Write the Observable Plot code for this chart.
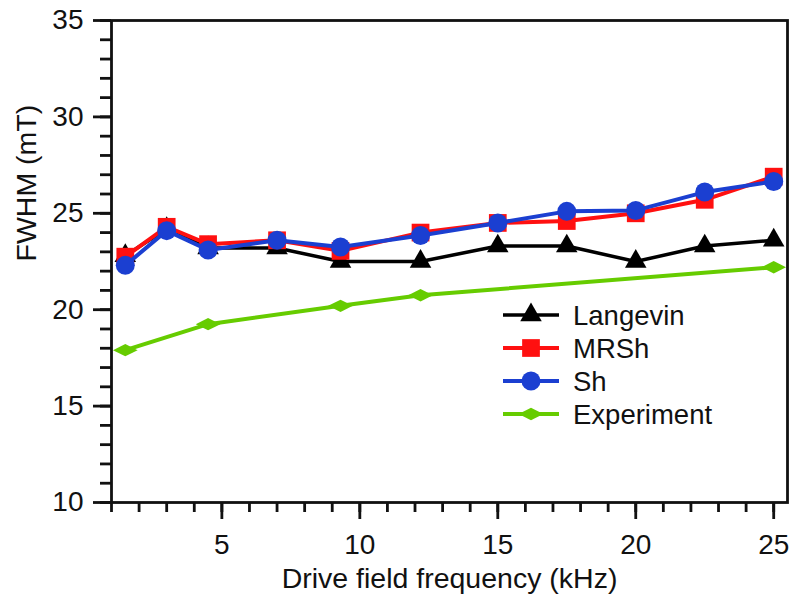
<!DOCTYPE html>
<html>
<head>
<meta charset="utf-8">
<script src="https://cdn.jsdelivr.net/npm/d3@7"></script>
<script src="https://cdn.jsdelivr.net/npm/@observablehq/plot@0.6"></script>
<style>
  html, body { margin: 0; padding: 0; background: #fff; }
  #chart { position: relative; width: 800px; height: 610px; }
</style>
</head>
<body>
<div id="chart"></div>
<script>
// ---- data ----
const freqSim = [1.5, 3, 4.5, 7, 9.3, 12.2, 15, 17.5, 20, 22.5, 25];
const langevin = [22.8, 24.2, 23.2, 23.2, 22.5, 22.5, 23.3, 23.3, 22.5, 23.3, 23.6];
const mrsh = [22.75, 24.3, 23.4, 23.6, 23.05, 24.0, 24.5, 24.6, 25.0, 25.7, 26.9];
const sh = [22.3, 24.1, 23.1, 23.6, 23.25, 23.85, 24.5, 25.1, 25.15, 26.1, 26.65];
const freqExp = [1.5, 4.5, 9.3, 12.2, 25];
const experiment = [17.9, 19.25, 20.2, 20.75, 22.2];
const seriesNames = ["Langevin", "MRSh", "Sh", "Experiment"];
const xMajorTicks = [5, 10, 15, 20, 25];
const yMajorTicks = [10, 15, 20, 25, 30, 35];
const xLabel = "Drive field frequency (kHz)";
const yLabel = "FWHM (mT)";

const colors = { Langevin: "#000000", MRSh: "#ff1010", Sh: "#1b3fd1", Experiment: "#66cc00" };

const toRows = (xs, ys, name) => xs.map((x, i) => ({ x, y: ys[i], series: name }));
const rowsL = toRows(freqSim, langevin, "Langevin");
const rowsM = toRows(freqSim, mrsh, "MRSh");
const rowsS = toRows(freqSim, sh, "Sh");
const rowsE = toRows(freqExp, experiment, "Experiment");

// flattened diamond symbol
const flatDiamond = {
  draw(context, size) {
    const w = Math.sqrt(size) * 0.58, h = w * 0.5;
    context.moveTo(-w, 0); context.lineTo(0, -h); context.lineTo(w, 0); context.lineTo(0, h); context.closePath();
  }
};

const FONT = "'Liberation Sans', Arial, sans-serif";

const plot = Plot.plot({
  width: 800,
  height: 610,
  marginLeft: 111,
  marginRight: 13,
  marginTop: 20,
  marginBottom: 108,
  style: { fontFamily: FONT, fontSize: "28px", background: "#fff", color: "#111" },
  x: { domain: [1, 25.5] },
  y: { domain: [10, 35] },
  marks: [
    // minor ticks
    Plot.axisX(d3.range(1, 26), { tickSize: 10, strokeWidth: 2.8, tickFormat: () => "", label: null }),
    Plot.axisY(d3.range(10, 36), { tickSize: 11, strokeWidth: 2.8, tickFormat: () => "", label: null }),
    // major ticks
    Plot.axisX(xMajorTicks, { tickSize: 17, tickPadding: 15, strokeWidth: 2.8, fontSize: 28, label: null }),
    Plot.axisY(yMajorTicks, { tickSize: 18, tickPadding: 10, strokeWidth: 2.8, fontSize: 28, label: null }),
    Plot.frame({ stroke: "#111", strokeWidth: 2.8 }),
    // axis titles
    Plot.text([xLabel], { frameAnchor: "bottom", dy: 85, text: d => d, fontSize: 28.5 }),
    Plot.text([yLabel], { frameAnchor: "left", dx: -85, rotate: -90, text: d => d, fontSize: 28.5 }),
    // series
    Plot.line(rowsE, { x: "x", y: "y", stroke: colors.Experiment, strokeWidth: 4 }),
    Plot.dot(rowsE, { x: "x", y: "y", fill: colors.Experiment, symbol: flatDiamond, r: 12 }),
    Plot.line(rowsL, { x: "x", y: "y", stroke: colors.Langevin, strokeWidth: 3.5 }),
    Plot.dot(rowsL, { x: "x", y: "y", fill: colors.Langevin, symbol: "triangle", r: 8 }),
    Plot.line(rowsM, { x: "x", y: "y", stroke: colors.MRSh, strokeWidth: 4 }),
    Plot.dot(rowsM, { x: "x", y: "y", fill: colors.MRSh, symbol: "square", r: 10 }),
    Plot.line(rowsS, { x: "x", y: "y", stroke: colors.Sh, strokeWidth: 4 }),
    Plot.dot(rowsS, { x: "x", y: "y", fill: colors.Sh, symbol: "circle", r: 9.5 })
  ]
});

document.getElementById("chart").appendChild(plot);

// ---- legend (inside plot area) ----
const svg = d3.select(plot);
const symbolFor = {
  Langevin: d3.symbol(d3.symbolTriangle, Math.PI * 8 * 8),
  MRSh: d3.symbol(d3.symbolSquare, Math.PI * 10 * 10),
  Sh: d3.symbol(d3.symbolCircle, Math.PI * 9.5 * 9.5),
  Experiment: d3.symbol(flatDiamond, Math.PI * 12 * 12)
};
const widthFor = { Langevin: 3.5, MRSh: 4, Sh: 4, Experiment: 4 };
const lg = svg.append("g").attr("transform", "translate(503,315)");
seriesNames.forEach((name, i) => {
  const g = lg.append("g").attr("transform", `translate(0,${i * 33})`);
  g.append("line").attr("x1", 0).attr("x2", 56).attr("y1", 0).attr("y2", 0)
    .attr("stroke", colors[name]).attr("stroke-width", widthFor[name]);
  g.append("path").attr("d", symbolFor[name]()).attr("transform", "translate(28,0)")
    .attr("fill", colors[name]);
  g.append("text").attr("x", 70).attr("y", 0).attr("dy", "0.35em")
    .attr("text-anchor", "start")
    .attr("font-family", FONT).attr("font-size", 27.5).attr("fill", "#111").text(name);
});
</script>
</body>
</html>
